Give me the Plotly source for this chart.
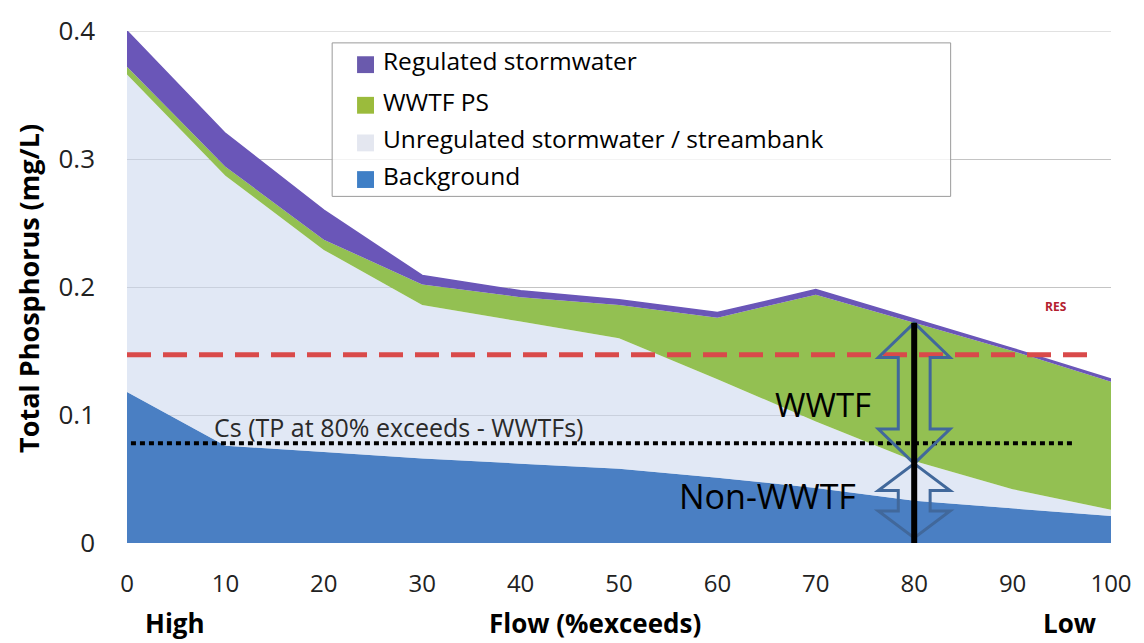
import plotly.graph_objects as go

# Flow duration (% of time flow is exceeded)
flow = [0, 10, 20, 30, 40, 50, 60, 70, 80, 90, 100]

# Total phosphorus contributions by source (mg/L), stacked bottom to top
background = [0.118, 0.076, 0.071, 0.066, 0.062, 0.058, 0.051, 0.043, 0.033, 0.027, 0.021]
unregulated = [0.248, 0.211, 0.158, 0.120, 0.111, 0.102, 0.077, 0.052, 0.031, 0.015, 0.005]
wwtf_ps = [0.006, 0.007, 0.008, 0.016, 0.019, 0.026, 0.048, 0.099, 0.108, 0.108, 0.100]
regulated = [0.028, 0.026, 0.023, 0.007, 0.005, 0.004, 0.004, 0.004, 0.003, 0.002, 0.002]

series_names = ["Background", "Unregulated stormwater / streambank", "WWTF PS", "Regulated stormwater"]
legend_order = ["Regulated stormwater", "WWTF PS", "Unregulated stormwater / streambank", "Background"]

y_ticks = [0, 0.1, 0.2, 0.3, 0.4]
y_tick_text = ["0", "0.1", "0.2", "0.3", "0.4"]
x_ticks = [0, 10, 20, 30, 40, 50, 60, 70, 80, 90, 100]

# Reference levels (mg/L)
res_target = 0.147          # RES criterion
cs_level = 0.078            # Cs (TP at 80% exceeds - WWTFs)
marker_flow = 80
marker_top = 0.172
arrow_split = 0.062

FONT = "Open Sans"
GRID = "#c4c4c4"
fill_colors = {
    "Background": "#4a7fc3",
    "Unregulated stormwater / streambank": "rgba(205,216,238,0.6)",
    "WWTF PS": "#93c052",
    "Regulated stormwater": "#6a56b8",
}
swatch_colors = {
    "Regulated stormwater": "#6a5aad",
    "WWTF PS": "#9bbb3c",
    "Unregulated stormwater / streambank": "#e4e7f0",
    "Background": "#3f7fc6",
}

values = {
    "Background": background,
    "Unregulated stormwater / streambank": unregulated,
    "WWTF PS": wwtf_ps,
    "Regulated stormwater": regulated,
}

fig = go.Figure()
for name in series_names:
    is_top = name == "Regulated stormwater"
    fig.add_trace(go.Scatter(
        x=flow, y=values[name], name=name, mode="lines",
        stackgroup="tp", fillcolor=fill_colors[name],
        line=dict(width=1.5 if is_top else 0, color="#6a56b8" if is_top else "rgba(0,0,0,0)"),
        showlegend=False, hoverinfo="skip",
    ))

# Plot-area geometry in pixels (used for paper-coordinate placements)
W, H = 1144, 643
L, R, T, B = 127, 29, 26, 100
PW, PH = W - L - R, H - T - B


def px_x(px):
    return (px - L) / PW


def px_y(py):
    return (H - B - py) / PH


x_per_px = 100 / PW

shapes = []
annotations = []


def label(px, py, text, size, color="#000000", anchor="center", angle=0):
    annotations.append(dict(xref="paper", yref="paper", x=px_x(px), y=px_y(py), text=text,
                            xanchor=anchor, yanchor="middle", textangle=angle, showarrow=False,
                            font=dict(family=FONT, size=size, color=color)))


# Top gridline at the edge of the value range
shapes.append(dict(type="line", xref="x", yref="y", x0=0, x1=100, y0=y_ticks[-1], y1=y_ticks[-1],
                   line=dict(color=GRID, width=1), layer="below"))

# RES target (red dashed) and Cs level (black dotted)
shapes.append(dict(type="line", xref="x", yref="y", x0=0, x1=98.5, y0=res_target, y1=res_target,
                   line=dict(color="#d94a4a", width=5, dash="24px,12px"), layer="above"))
shapes.append(dict(type="line", xref="x", yref="y", x0=0.4, x1=96.2, y0=cs_level, y1=cs_level,
                   line=dict(color="#000000", width=4, dash="5px,4px"), layer="above"))


def double_arrow(cx, bottom, top, head_len):
    hw = 36 * x_per_px
    sw = 16 * x_per_px
    pts = [
        (cx, top), (cx + hw, top - head_len), (cx + sw, top - head_len),
        (cx + sw, bottom + head_len), (cx + hw, bottom + head_len), (cx, bottom),
        (cx - hw, bottom + head_len), (cx - sw, bottom + head_len),
        (cx - sw, top - head_len), (cx - hw, top - head_len),
    ]
    path = "M " + " L ".join(f"{x:.4f},{y:.4f}" for x, y in pts) + " Z"
    return dict(type="path", xref="x", yref="y", path=path,
                line=dict(color="#41689b", width=3), fillcolor="rgba(0,0,0,0)", layer="above")


shapes.append(double_arrow(marker_flow, arrow_split, marker_top, 0.027))
shapes.append(double_arrow(marker_flow, 0.004, arrow_split, 0.021))
shapes.append(dict(type="line", xref="x", yref="y", x0=marker_flow, x1=marker_flow, y0=0, y1=marker_top,
                   line=dict(color="#000000", width=6), layer="above"))

# In-plot labels
label(1060, 304, "<b>RES</b>", 12, color="#b3202e")
label(212, 426, "Cs (TP at 80% exceeds - WWTFs)", 25, color="#2a2a2a", anchor="left")
label(826, 403, "WWTF", 33)
label(770, 496, "Non-WWTF", 34)

# Legend box
shapes.append(dict(type="rect", xref="paper", yref="paper", x0=px_x(333), x1=px_x(954),
                   y0=px_y(193), y1=px_y(38), line=dict(color="#9a9a9a", width=1),
                   fillcolor="rgba(255,255,255,0.8)", layer="above"))
row_y = [60, 101, 139, 176]
for name, ry in zip(legend_order, row_y):
    shapes.append(dict(type="rect", xref="paper", yref="paper", x0=px_x(358), x1=px_x(375),
                       y0=px_y(ry + 8.5), y1=px_y(ry - 8.5), line=dict(width=0),
                       fillcolor=swatch_colors[name], layer="above"))
    label(382, ry - 4, name, 24.5, anchor="left")

# Axis titles and flow descriptors
label(28, 286, "<b>Total Phosphorus (mg/L)</b>", 27, angle=-90)
for text, cx in [("High", 175), ("Flow (%exceeds)", 597), ("Low", 1073)]:
    label(cx, 624, f"<b>{text}</b>", 26)

fig.update_layout(
    width=W, height=H,
    margin=dict(l=L, r=R, t=T, b=B),
    paper_bgcolor="white", plot_bgcolor="white",
    shapes=shapes, annotations=annotations,
    showlegend=False,
    xaxis=dict(range=[0, 100], tickvals=x_ticks, showgrid=False, zeroline=False, showline=False,
               ticks="", ticklabelstandoff=24, tickfont=dict(family=FONT, size=24, color="#222222"),
               fixedrange=True),
    yaxis=dict(range=[0, 0.4], tickvals=y_ticks, ticktext=y_tick_text, showgrid=True,
               gridcolor=GRID, gridwidth=1, zeroline=False, showline=False, ticks="",
               ticklabelstandoff=31, tickfont=dict(family=FONT, size=26, color="#222222"),
               fixedrange=True),
)

fig.write_html("out.html")
